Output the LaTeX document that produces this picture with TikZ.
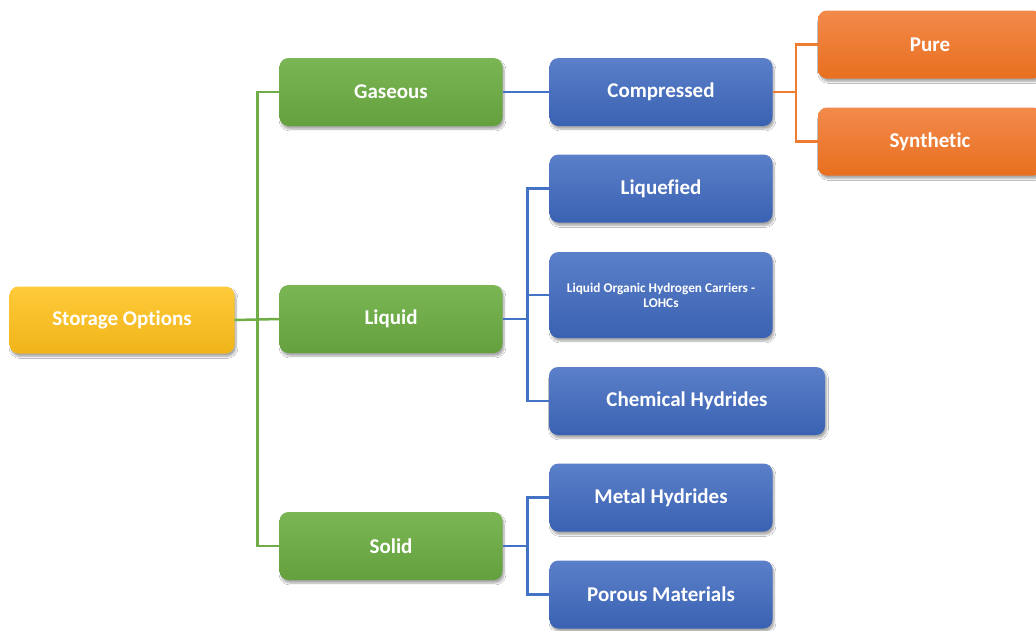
\documentclass[tikz,border=0pt]{standalone}
\usepackage{fontspec}
\setmainfont[Ligatures={NoCommon}]{Carlito}
\usetikzlibrary{shadows.blur}

\definecolor{yelT}{HTML}{FFCB3A}
\definecolor{yelB}{HTML}{F0B419}
\definecolor{grnT}{HTML}{7AB654}
\definecolor{grnB}{HTML}{64A13E}
\definecolor{bluT}{HTML}{5B7FC9}
\definecolor{bluB}{HTML}{3A62B2}
\definecolor{orgT}{HTML}{F28A4B}
\definecolor{orgB}{HTML}{E86F1F}
\definecolor{grnL}{HTML}{70AD47}
\definecolor{bluL}{HTML}{4472C4}
\definecolor{orgL}{HTML}{ED7D31}

\tikzset{
  box/.style={rounded corners=9pt, minimum width=223pt, minimum height=68pt,
    inner sep=2pt, align=center, text=white, font=\bfseries\fontsize{21}{23}\selectfont,
    blur shadow={shadow xshift=1.5pt, shadow yshift=-3pt, shadow blur steps=6, shadow opacity=35}},
  ybox/.style={box, top color=yelT, bottom color=yelB},
  gbox/.style={box, top color=grnT, bottom color=grnB},
  bbox/.style={box, top color=bluT, bottom color=bluB},
  obox/.style={box, top color=orgT, bottom color=orgB},
  gline/.style={draw=grnL, line width=2.5pt},
  bline/.style={draw=bluL, line width=2.5pt},
  oline/.style={draw=orgL, line width=2.5pt},
}

\begin{document}
\begin{tikzpicture}[x=1pt, y=-1pt]
  \clip (0,0) rectangle (1036,630);
  \fill[white] (0,0) rectangle (1036,630);

  % root
  \node[ybox, minimum width=225pt, minimum height=67pt] (so) at (122,320) {Storage Options};

  % first level
  \node[gbox] (gas) at (391,92) {Gaseous};
  \node[gbox] (liq) at (391,319) {Liquid};
  \node[gbox] (sol) at (391,546) {Solid};

  % second level
  \node[bbox] (comp) at (661,92) {Compressed};
  \node[bbox] (lqf) at (661,188.5) {Liquefied};
  \node[bbox, minimum height=86pt, font=\bfseries\fontsize{13.3}{15}\selectfont] (lohc) at (661,295) {Liquid Organic Hydrogen Carriers -\\LOHCs};
  \node[bbox, minimum width=276pt] (chem) at (687,401) {Chemical Hydrides};
  \node[bbox] (metal) at (661,497.5) {Metal Hydrides};
  \node[bbox] (porous) at (661,594.5) {Porous Materials};

  % third level
  \node[obox, minimum width=224pt] (pure) at (930,44.5) {Pure};
  \node[obox, minimum width=224pt] (syn) at (930,141.5) {Synthetic};

  % connectors: root to first level
  \draw[gline] (so.east) -- (liq.west);
  \draw[gline] (gas.west) -- ++(-22,0) |- (sol.west);

  % connectors: first to second level
  \draw[bline] (gas.east) -- (comp.west);
  \draw[bline] (liq.east) -- ++(24,0);
  \draw[bline] (lqf.west) -- ++(-22,0) |- (chem.west);
  \draw[bline] (lohc.west) -- ++(-22,0);
  \draw[bline] (sol.east) -- ++(24,0);
  \draw[bline] (metal.west) -- ++(-22,0) |- (porous.west);

  % connectors: second to third level
  \draw[oline] (comp.east) -- ++(23,0);
  \draw[oline] (pure.west) -- ++(-22,0) |- (syn.west);
\end{tikzpicture}
\end{document}
